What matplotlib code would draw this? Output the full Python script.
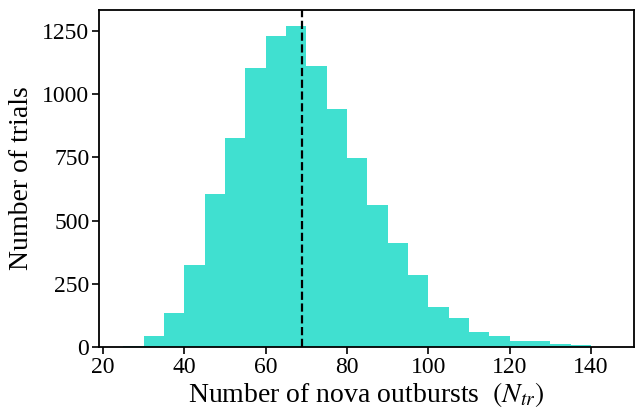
import numpy as np
import matplotlib.pyplot as plt

plt.rcParams['font.family'] = 'Liberation Serif'
plt.rcParams['mathtext.fontset'] = 'stix'

# histogram of simulated nova outburst counts
bin_edges = [25, 30, 35, 40, 45, 50, 55, 60, 65, 70, 75, 80, 85, 90, 95, 100,
             105, 110, 115, 120, 125, 130, 135, 140]
counts = [5, 43, 135, 325, 605, 827, 1104, 1230, 1270, 1112, 941, 748, 562,
          411, 285, 158, 115, 59, 43, 24, 24, 12, 6]
median_n = 69

fig = plt.figure(figsize=(6.35, 4.13), dpi=100)
ax = fig.add_axes([0.156, 0.160, 0.842, 0.816])

ax.hist(bin_edges[:-1], bins=bin_edges, weights=counts, color="turquoise")
ax.axvline(median_n, color="black", linestyle="--", linewidth=1.6)

ax.set_xlim(19, 150.5)
ax.set_ylim(0, 1333)
ax.set_xticks([20, 40, 60, 80, 100, 120, 140])
ax.set_yticks([0, 250, 500, 750, 1000, 1250])
ax.tick_params(labelsize=17, width=1.2, length=5, pad=2)
for s in ax.spines.values():
    s.set_linewidth(1.3)

ax.set_xlabel(r"Number of nova outbursts  $(N_{tr})$", fontsize=20, labelpad=2)
ax.set_ylabel("Number of trials", fontsize=20, labelpad=6)

fig.savefig("out.png", dpi=100)
